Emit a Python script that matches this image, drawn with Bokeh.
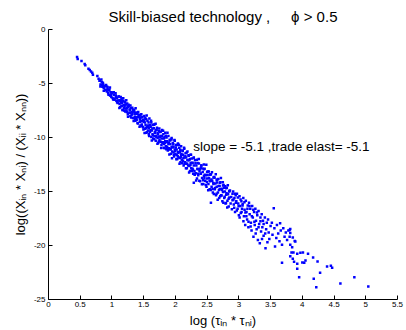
from bokeh.plotting import figure
from bokeh.models import Range1d, FixedTicker, Label
from bokeh.embed import file_html
from bokeh.resources import INLINE

# ---------------- data ----------------
title_text = "Skill-biased technology ,\u00a0\u00a0\u00a0\u00a0\u00a0\u03d5 > 0.5"
x_label = "log (\u03c4\u1d62\u2099 * \u03c4\u2099\u1d62)"
y_label = "log((X\u1d62\u2099 * X\u2099\u1d62) / (X\u1d62\u1d62 * X\u2099\u2099))"
slope = -5.1
trade_elast = -5.1

xticks = [0, 0.5, 1, 1.5, 2, 2.5, 3, 3.5, 4, 4.5, 5, 5.5]
xtick_labels = ["0", "0.5", "1", "1.5", "2", "2.5", "3", "3.5", "4", "4.5", "5", "5.5"]
yticks = [0, -5, -10, -15, -20, -25]
ytick_labels = ["0", "-5", "-10", "-15", "-20", "-25"]

head_x = [0.45, 0.46, 0.52, 0.57, 0.58, 0.63, 0.65, 0.67, 0.69, 0.70, 0.77, 0.79,
          0.81, 0.82, 0.84, 0.85, 0.86, 0.87, 0.88, 0.89, 0.91, 0.92, 0.93, 0.94,
          0.96, 0.97, 0.98, 0.99, 1.0, 1.01, 1.03, 1.04, 1.06, 1.07, 1.08, 1.09]
head_y = [-2.55, -2.72, -2.92, -3.2, -3.3, -3.63, -3.75, -3.9, -4.0, -4.18, -4.3, -4.55,
          -4.75, -5.1, -4.85, -5.3, -5.05, -5.4, -5.2, -5.6, -5.25, -5.75, -5.5, -5.9,
          -5.55, -6.1, -5.8, -6.25, -5.85, -6.35, -6.05, -6.5, -6.1, -6.6, -6.35, -6.8]

upper_x = [1.11, 1.12, 1.12, 1.13, 1.14, 1.15, 1.16, 1.16, 1.17, 1.18,
           1.19, 1.2, 1.2, 1.21, 1.22, 1.23, 1.24, 1.24, 1.25, 1.26,
           1.27, 1.28, 1.28, 1.29, 1.3, 1.31, 1.32, 1.32, 1.33, 1.34,
           1.35, 1.36, 1.36, 1.37, 1.38, 1.39, 1.4, 1.4, 1.41, 1.42,
           1.43, 1.44, 1.44, 1.45, 1.46, 1.47, 1.48, 1.48, 1.49, 1.5]
upper_y = [-6.2, -6.9, -6.55, -7.2, -6.75, -6.45, -7.05, -6.8, -7.45, -6.6,
           -7.3, -6.7, -7.1, -7.6, -6.95, -7.5, -6.85, -7.3, -7.85, -7.15,
           -7.05, -7.7, -7.45, -8.0, -7.3, -7.9, -7.25, -7.65, -8.2, -7.55,
           -7.45, -8.1, -7.85, -8.45, -7.7, -8.35, -7.7, -8.1, -8.7, -7.95,
           -7.9, -8.55, -8.3, -8.9, -8.15, -8.8, -8.1, -8.5, -9.05, -8.35]

mid_x = [1.51, 1.52, 1.52, 1.53, 1.54, 1.54, 1.55,
         1.56, 1.57, 1.57, 1.58, 1.58, 1.59, 1.6,
         1.61, 1.62, 1.62, 1.63, 1.64, 1.64, 1.65,
         1.66, 1.67, 1.67, 1.68, 1.69, 1.69, 1.7,
         1.71, 1.72, 1.72, 1.73, 1.74, 1.74, 1.75,
         1.76, 1.77, 1.77, 1.78, 1.79, 1.79, 1.8,
         1.81, 1.82, 1.82, 1.83, 1.84, 1.84, 1.85,
         1.86, 1.87, 1.87, 1.88, 1.89, 1.89, 1.9,
         1.91, 1.92, 1.92, 1.93, 1.94, 1.94, 1.95,
         1.96, 1.97, 1.97, 1.98, 1.99, 1.99, 2.0,
         2.01, 2.02, 2.02, 2.03, 2.04, 2.04, 2.05,
         2.06, 2.07, 2.07, 2.08, 2.09, 2.09, 2.1,
         2.11, 2.12, 2.12, 2.13, 2.14, 2.14, 2.15,
         2.16, 2.17, 2.17, 2.18, 2.19, 2.19, 2.2,
         2.21, 2.22, 2.22, 2.23, 2.24, 2.24, 2.25,
         2.26, 2.27, 2.27, 2.28, 2.29, 2.29, 2.3]
mid_y = [-8.0, -9.2, -8.6, -8.85, -9.55, -8.3, -9.05,
         -8.45, -9.35, -8.9, -9.7, -9.1, -8.25, -9.5,
         -9.0, -9.95, -8.6, -9.35, -9.7, -8.85, -10.1,
         -9.15, -9.85, -8.8, -9.5, -10.3, -9.3, -9.95,
         -9.1, -10.05, -9.6, -10.5, -9.4, -9.9, -10.25,
         -9.5, -10.4, -9.85, -10.7, -9.3, -10.1, -10.45,
         -9.7, -10.6, -10.1, -11.0, -9.55, -10.35, -10.8,
         -10.0, -10.85, -10.35, -11.2, -9.85, -10.6, -11.0,
         -10.2, -11.1, -10.6, -11.5, -10.05, -10.85, -11.3,
         -10.5, -11.4, -10.85, -11.75, -10.3, -11.1, -11.55,
         -10.7, -11.6, -11.1, -12.0, -10.55, -11.35, -11.85,
         -10.95, -11.9, -11.35, -12.3, -10.8, -11.6, -12.05,
         -11.2, -12.15, -11.6, -12.6, -11.05, -11.85, -12.3,
         -11.45, -12.4, -11.85, -12.85, -11.3, -12.1, -12.6,
         -11.7, -12.65, -12.1, -13.1, -11.6, -12.35, -12.85,
         -11.95, -12.9, -12.35, -13.35, -11.85, -12.6, -13.1]

low_x = [2.31, 2.32, 2.33, 2.34, 2.35, 2.35,
         2.36, 2.37, 2.38, 2.39, 2.4, 2.4,
         2.41, 2.42, 2.43, 2.44, 2.45, 2.45,
         2.46, 2.47, 2.48, 2.49, 2.5, 2.5,
         2.51, 2.52, 2.53, 2.54, 2.55, 2.55,
         2.56, 2.57, 2.58, 2.59, 2.6, 2.6,
         2.61, 2.62, 2.63, 2.64, 2.65, 2.65,
         2.66, 2.67, 2.68, 2.69, 2.7, 2.7,
         2.71, 2.72, 2.73, 2.74, 2.75, 2.75,
         2.76, 2.77, 2.78, 2.79, 2.8, 2.8,
         2.81, 2.82, 2.83, 2.84, 2.85, 2.85,
         2.86, 2.87, 2.88, 2.89, 2.9, 2.9,
         2.56, 2.29]
low_y = [-12.1, -13.3, -12.6, -13.8, -12.95, -12.35,
         -13.5, -12.4, -13.1, -14.05, -12.8, -13.35,
         -12.6, -13.75, -13.2, -14.3, -12.95, -13.55,
         -12.9, -14.0, -13.5, -14.55, -13.2, -13.8,
         -13.15, -14.3, -13.75, -14.8, -13.45, -14.05,
         -13.4, -14.55, -14.0, -15.1, -13.7, -14.3,
         -13.65, -14.8, -14.25, -15.35, -13.95, -14.55,
         -13.9, -15.1, -14.5, -15.6, -14.2, -14.8,
         -14.15, -15.35, -14.75, -15.9, -14.45, -15.05,
         -14.4, -15.6, -15.0, -16.1, -14.7, -15.3,
         -14.65, -15.85, -15.25, -16.4, -14.95, -15.55,
         -14.9, -16.1, -15.5, -16.65, -15.2, -15.8,
         -16.05, -14.2]

spread_x = [2.91, 2.92, 2.93, 2.94, 2.95, 2.96, 2.97, 2.98, 2.99, 3.0,
            3.01, 3.02, 3.03, 3.04, 3.05, 3.06, 3.07, 3.08, 3.09, 3.1,
            3.11, 3.12, 3.13, 3.14, 3.15, 3.16, 3.17, 3.18, 3.19, 3.2,
            3.21, 3.22, 3.23, 3.24, 3.25, 3.26, 3.27, 3.28, 3.29, 3.3,
            3.31, 3.32, 3.33, 3.34, 3.35, 3.36, 3.37, 3.38, 3.39,
            3.41, 3.42, 3.43, 3.44, 3.46, 3.47, 3.48, 3.5,
            3.52, 3.53, 3.55, 3.56, 3.57, 3.59, 3.6, 3.62, 3.64, 3.65,
            3.66, 3.68, 3.7, 3.72, 3.74, 3.76, 3.78, 3.8, 3.8, 3.68]
spread_y = [-15.0, -16.2, -15.6, -16.9, -15.35, -15.9, -15.2, -16.6, -16.1, -17.2,
            -15.45, -16.35, -17.0, -15.9, -16.6, -16.15, -15.6, -17.3, -16.7, -18.1,
            -15.85, -16.9, -17.6, -16.3, -18.3, -16.05, -17.1, -16.6, -17.9, -18.6,
            -16.35, -17.4, -19.2, -16.9, -18.1, -16.6, -17.7, -18.5, -17.2, -19.5,
            -16.8, -18.0, -19.8, -17.4, -18.7, -17.1, -18.3, -17.7, -19.1,
            -17.4, -20.25, -18.5, -17.9, -17.6, -18.8, -19.4, -18.2,
            -17.9, -19.0, -16.55, -18.4, -20.1, -19.3, -18.1, -18.9, -19.6, -17.95,
            -18.6, -19.94, -18.4, -19.2, -18.8, -19.5, -18.6, -18.57, -19.18, -21.6]

tail_x = [3.81, 3.81, 3.85, 3.88, 3.81, 3.84, 3.83, 3.86, 3.92, 3.97,
          4.01, 4.0, 4.03, 4.05, 4.09, 4.17, 4.24, 3.85, 3.87, 3.92,
          3.92, 3.95, 4.18, 4.22, 4.28, 4.39, 4.45, 4.47, 4.6, 4.82,
          5.04, 3.89, 3.81]
tail_y = [-18.47, -18.84, -19.27, -19.58, -19.94, -20.16, -20.65, -20.65, -20.77, -20.68,
          -20.65, -21.57, -21.6, -21.39, -20.77, -21.11, -21.48, -21.23, -21.51, -21.69,
          -22.15, -22.95, -23.07, -23.87, -22.52, -21.94, -21.88, -22.06, -23.53, -22.95,
          -23.8, -19.64, -21.0]

fill_a_x = [0.805, 0.818, 0.833, 0.842, 0.857, 0.871, 0.879, 0.894, 0.908, 0.915,
            0.931, 0.946, 0.953, 0.968, 0.982, 0.991, 1.006, 1.019, 1.028, 1.043,
            1.057, 1.066, 1.081, 1.095,
            1.104, 1.117, 1.126, 1.138, 1.149, 1.157, 1.166, 1.178, 1.186, 1.197,
            1.205, 1.214, 1.226, 1.233, 1.245, 1.253, 1.262, 1.274, 1.283, 1.291,
            1.303, 1.311, 1.322, 1.334, 1.342, 1.353, 1.361, 1.373, 1.384, 1.392,
            1.403, 1.414, 1.423, 1.435, 1.446, 1.455, 1.463, 1.476, 1.487, 1.496]
fill_a_y = [-4.75, -5.27, -4.64, -5.14, -4.93, -5.68, -5.28, -5.59, -5.13, -5.62,
            -5.32, -6.04, -5.65, -5.37, -6.13, -5.95, -5.83, -6.49, -5.82, -6.38,
            -5.91, -6.26, -6.73, -6.58,
            -6.20, -7.28, -6.61, -6.26, -7.11, -6.59, -7.46, -6.36, -7.01, -7.52,
            -6.77, -7.31, -6.54, -7.63, -7.13, -8.08, -6.96, -7.70, -7.41, -7.04,
            -8.15, -7.63, -7.80, -7.42, -8.47, -7.63, -8.27, -7.29, -8.17, -7.80,
            -8.65, -7.65, -8.11, -9.00, -7.97, -8.47, -7.84, -8.96, -8.38, -9.25]

fill_b_x = [1.505, 1.514, 1.526, 1.535, 1.547, 1.556, 1.565, 1.577, 1.586, 1.598,
            1.607, 1.616, 1.628, 1.637, 1.645, 1.658, 1.667, 1.676, 1.688, 1.697,
            1.705, 1.717, 1.726, 1.738, 1.746, 1.755, 1.767, 1.776, 1.785, 1.797,
            1.806, 1.815, 1.827, 1.836, 1.848, 1.857, 1.866, 1.875, 1.887, 1.896,
            1.905, 1.917, 1.926, 1.938, 1.946, 1.955, 1.967, 1.976, 1.985, 1.997,
            2.006, 2.015, 2.027, 2.036, 2.047, 2.056, 2.065, 2.077, 2.086, 2.095,
            2.107, 2.116, 2.127, 2.136, 2.145, 2.157, 2.166, 2.178, 2.186, 2.195,
            2.207, 2.216, 2.228, 2.237, 2.246, 2.258, 2.267, 2.276, 2.288, 2.296]
fill_b_y = [-8.54, -9.59, -8.20, -9.15, -7.96, -9.50, -8.95, -8.61, -9.85, -8.86,
            -9.31, -8.46, -10.27, -9.16, -9.80, -8.82, -10.16, -9.56, -8.72, -9.87,
            -9.31, -10.57, -9.71, -10.37, -9.16, -10.01, -9.47, -10.97, -9.86, -10.52,
            -9.37, -10.96, -9.97, -10.52, -9.83, -11.08, -10.42, -9.57, -11.08, -10.47,
            -11.57, -10.28, -11.07, -10.18, -11.93, -10.92, -10.63, -11.63, -10.22, -11.28,
            -10.93, -12.02, -10.69, -11.73, -11.44, -10.68, -12.43, -11.14, -11.83, -11.53,
            -12.39, -11.24, -11.89, -10.94, -12.43, -11.74, -12.84, -11.40, -12.44, -12.09,
            -11.65, -13.24, -12.00, -12.54, -11.59, -13.10, -12.34, -12.99, -11.90, -13.39]

fill_c_x = [2.305, 2.316, 2.327, 2.338, 2.347, 2.356, 2.368, 2.377, 2.386, 2.398,
            2.407, 2.418, 2.426, 2.437, 2.448, 2.457, 2.466, 2.478, 2.487, 2.496,
            2.508, 2.517, 2.526, 2.538, 2.547, 2.556, 2.567, 2.576, 2.587, 2.597,
            2.606, 2.617, 2.626, 2.636, 2.648, 2.657, 2.666, 2.677, 2.686, 2.697,
            2.706, 2.717, 2.727, 2.736, 2.747, 2.756, 2.767, 2.776, 2.786, 2.797,
            2.806, 2.817, 2.826, 2.838, 2.847,
            2.915, 2.927, 2.938, 2.952, 2.968, 2.984, 2.996, 3.012, 3.027, 3.043,
            3.058, 3.072, 3.088, 3.103, 3.118, 3.135, 3.152, 3.168, 3.185, 3.205,
            3.228, 3.245, 3.265, 3.285, 3.31, 3.34, 3.365, 3.39, 3.415, 3.45]
fill_c_y = [-13.46, -12.38, -13.99, -12.07, -12.89, -13.36, -11.98, -14.01, -12.91, -13.33,
            -12.60, -14.33, -12.87, -13.95, -12.51, -13.75, -13.44, -14.40, -12.52, -14.13,
            -13.47, -14.89, -13.14, -13.98, -13.43, -14.85, -13.89, -13.21, -14.77, -14.22,
            -15.23, -13.72, -14.67, -13.40, -15.20, -14.16, -15.77, -13.84, -14.85, -14.49,
            -15.43, -13.75, -15.36, -14.86, -14.14, -16.04, -14.66, -15.49, -14.52, -16.07,
            -15.16, -16.47, -14.42, -15.68, -15.00,
            -15.75, -16.5, -15.2, -16.05, -16.75, -15.55, -16.35, -17.4, -15.75, -16.9,
            -16.3, -17.75, -16.0, -16.95, -17.3, -16.6, -17.8, -16.35, -18.25, -17.3,
            -16.7, -17.8, -18.9, -16.95, -18.3, -17.75, -19.4, -18.0, -18.9, -19.7]

# ---------------- layout / style ----------------
FONT = "Liberation Sans"
note_x, note_y = 2.28, -10.85

xs = head_x + upper_x + mid_x + low_x + spread_x + tail_x + fill_a_x + fill_b_x + fill_c_x
ys = head_y + upper_y + mid_y + low_y + spread_y + tail_y + fill_a_y + fill_b_y + fill_c_y

p = figure(width=406, height=330, output_backend="svg", toolbar_location=None,
           x_range=Range1d(0, 5.5), y_range=Range1d(-25, 0),
           min_border_left=48, min_border_right=9, min_border_top=28, min_border_bottom=31)

p.title.text = title_text
p.title.align = "center"
p.title.text_font = FONT
p.title.text_font_size = "15px"
p.title.text_font_style = "normal"
p.title.text_color = "black"

p.grid.visible = False
p.outline_line_color = None
p.background_fill_color = "white"
p.border_fill_color = "white"

p.scatter(xs, ys, marker="square", size=2.5, fill_color="#0000ff", line_color=None)

for ax, ticks, labels, standoff in ((p.xaxis[0], xticks, xtick_labels, 2),
                                    (p.yaxis[0], yticks, ytick_labels, 3)):
    ax.ticker = FixedTicker(ticks=ticks)
    ax.major_label_overrides = {t: l for t, l in zip(ticks, labels)}
    ax.major_tick_in = 4
    ax.major_tick_out = 0
    ax.minor_tick_in = 0
    ax.minor_tick_out = 0
    ax.axis_line_color = "black"
    ax.axis_line_width = 1
    ax.major_tick_line_color = "black"
    ax.major_label_text_font = FONT
    ax.major_label_text_font_size = "8px"
    ax.major_label_text_color = "black"
    ax.major_label_standoff = standoff
    ax.axis_label_text_font = FONT
    ax.axis_label_text_font_size = "13px"
    ax.axis_label_text_font_style = "normal"
    ax.axis_label_text_color = "black"
    ax.axis_label_standoff = 3

p.xaxis[0].axis_label = x_label
p.yaxis[0].axis_label = y_label

note = Label(x=note_x, y=note_y,
             text=f"slope = {slope} ,trade elast= {trade_elast}",
             text_font=FONT, text_font_size="13.5px", text_baseline="middle",
             text_color="black")
p.add_layout(note)

open("out.html", "w").write(file_html(p, INLINE))
